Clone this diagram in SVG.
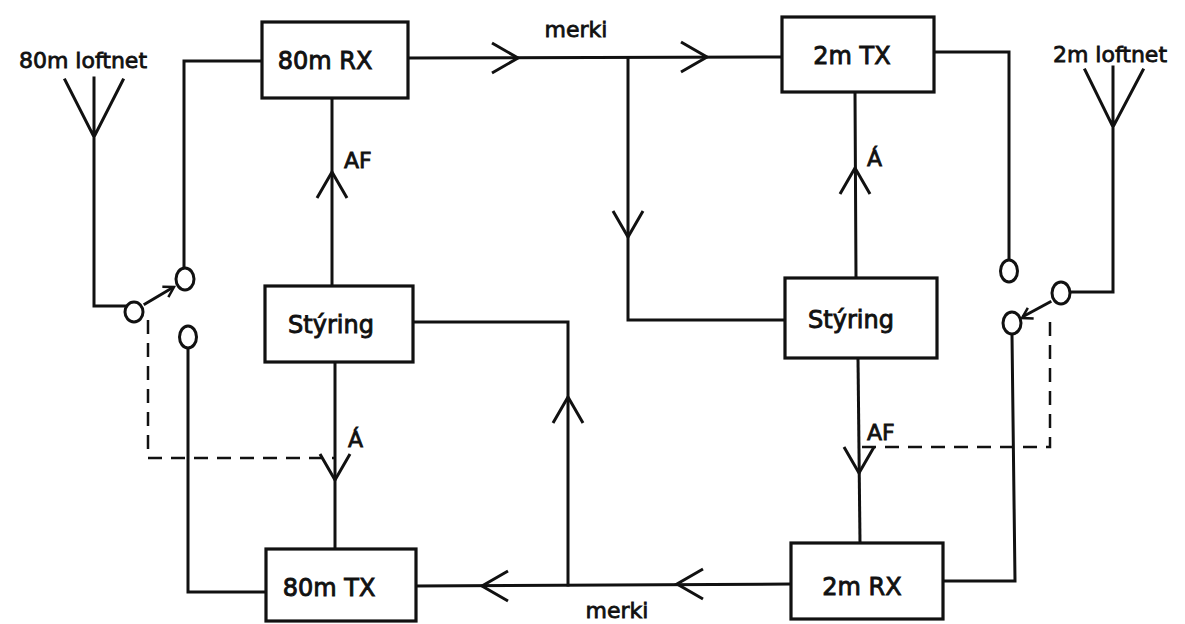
<svg xmlns="http://www.w3.org/2000/svg" xmlns:xlink="http://www.w3.org/1999/xlink" width="1185" height="624" viewBox="0 0 1185 624">
<style>
.ln{fill:none;stroke:#111;stroke-width:3;stroke-linejoin:miter;stroke-linecap:square}
.dash{fill:none;stroke:#111;stroke-width:2.5;stroke-dasharray:14,9}
.box{fill:#fff;stroke:#111;stroke-width:3.2}
.t{font-family:"DejaVu Sans",sans-serif;font-size:24px;fill:#111;stroke:#111;stroke-width:0.9}
.s{font-family:"DejaVu Sans",sans-serif;font-size:22px;fill:#111;stroke:#111;stroke-width:0.8}
.c{fill:#fff;stroke:#111;stroke-width:3}
</style>
<defs>
<path id="chev" d="M-26,-15 L0,0 L-26,15" fill="none" stroke="#111" stroke-width="3"/>
<path id="sch" d="M-10,-6 L0,0 L-10,6" fill="none" stroke="#111" stroke-width="2.5"/>
</defs>
<rect width="1185" height="624" fill="#fff"/>
<g id="connectors">
<path class="ln" d="M65,80 L94,137 L123,80 M94,78 L94,306 L127,306"/>
<path class="ln" d="M184,269 L184,61 L262,61"/>
<path class="ln" d="M188,348 L188,592 L266,592"/>
<path class="ln" d="M145,304 L172,288"/>
<use xlink:href="#sch" transform="translate(174,287) rotate(-30)"/>
<path class="dash" d="M148,320 L148,458 L335,458"/>
<path class="ln" d="M408,58 L782,57"/>
<use xlink:href="#chev" transform="translate(518,58)"/>
<use xlink:href="#chev" transform="translate(707,57)"/>
<path class="ln" d="M628,58 L628,320 L785,320"/>
<use xlink:href="#chev" transform="translate(628,237) rotate(90)"/>
<path class="ln" d="M934,52 L1009,52 L1009,260"/>
<path class="ln" d="M1085,70 L1113,127 L1143,70 M1113,67 L1113,292 L1070,292"/>
<path class="ln" d="M1050,302 L1024,316"/>
<use xlink:href="#sch" transform="translate(1022,318) rotate(151)"/>
<path class="ln" d="M1012,335 L1015,581 L943,581"/>
<path class="dash" d="M1050,322 L1050,447 L858,447"/>
<path class="ln" d="M855,92 L856,278"/>
<use xlink:href="#chev" transform="translate(855,168) rotate(-90)"/>
<path class="ln" d="M858,358 L860,543"/>
<use xlink:href="#chev" transform="translate(859,473) rotate(90)"/>
<path class="ln" d="M791,584 L416,586"/>
<use xlink:href="#chev" transform="translate(677,584) rotate(180)"/>
<use xlink:href="#chev" transform="translate(482,586) rotate(180)"/>
<path class="ln" d="M568,585 L568,322 L413,322"/>
<use xlink:href="#chev" transform="translate(568,397) rotate(-90)"/>
<path class="ln" d="M332,98 L332,286"/>
<use xlink:href="#chev" transform="translate(332,172) rotate(-90)"/>
<path class="ln" d="M335,362 L335,549"/>
<use xlink:href="#chev" transform="translate(335,480) rotate(90)"/>
</g>
<g id="switch80">
<ellipse class="c" cx="134" cy="312" rx="9" ry="10"/>
<ellipse class="c" cx="185" cy="279" rx="9" ry="11"/>
<ellipse class="c" cx="188" cy="337" rx="8.5" ry="11"/>
</g>
<g id="switch2">
<ellipse class="c" cx="1009" cy="271" rx="8.5" ry="11"/>
<ellipse class="c" cx="1061" cy="293" rx="9" ry="11"/>
<ellipse class="c" cx="1012" cy="323" rx="9" ry="11"/>
</g>
<g id="rx80"><rect class="box" x="262" y="22" width="146" height="76"/><text class="t" x="325" y="69" text-anchor="middle">80m RX</text></g>
<g id="tx2"><rect class="box" x="782" y="17" width="152" height="75"/><text class="t" x="852" y="64" text-anchor="middle">2m TX</text></g>
<g id="styr80"><rect class="box" x="265" y="286" width="148" height="76"/><text class="t" x="331" y="333" text-anchor="middle">Stýring</text></g>
<g id="styr2"><rect class="box" x="785" y="278" width="152" height="80"/><text class="t" x="851" y="328" text-anchor="middle">Stýring</text></g>
<g id="tx80"><rect class="box" x="266" y="549" width="150" height="72"/><text class="t" x="329" y="596" text-anchor="middle">80m TX</text></g>
<g id="rx2"><rect class="box" x="791" y="543" width="152" height="76"/><text class="t" x="862" y="595" text-anchor="middle">2m RX</text></g>
<g id="labels">
<text class="s" x="83" y="68" text-anchor="middle">80m loftnet</text>
<text class="s" x="1110" y="62" text-anchor="middle">2m loftnet</text>
<text class="s" x="576" y="37" text-anchor="middle">merki</text>
<text class="s" x="617" y="618" text-anchor="middle">merki</text>
<text class="s" x="344" y="168">AF</text>
<text class="s" x="867" y="166">Á</text>
<text class="s" x="348" y="447">Á</text>
<text class="s" x="867" y="440">AF</text>
</g>
</svg>
